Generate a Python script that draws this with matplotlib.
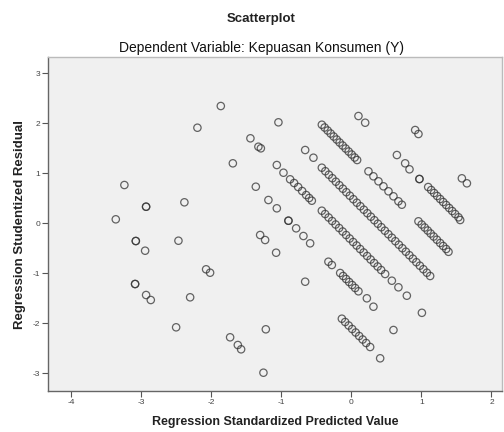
import matplotlib
matplotlib.use("Agg")
import matplotlib.pyplot as plt

plt.rcParams['font.family'] = ['Liberation Sans', 'DejaVu Sans']

title = "Scatterplot"
subtitle = "Dependent Variable: Kepuasan Konsumen (Y)"
xlabel = "Regression Standardized Predicted Value"
ylabel = "Regression Studentized Residual"
xticks = [-4, -3, -2, -1, 0, 1, 2]
yticks = [-3, -2, -1, 0, 1, 2, 3]

# Regression standardized predicted values (x) and studentized residuals (y)
pred = [
    # band 1
    0.910, 0.957, 1.577, 1.649,
    # band 2
    0.100, 0.196, 0.649, 0.767, 0.829, 0.971, 0.971,
    1.096, 1.139, 1.181, 1.224, 1.267, 1.310, 1.353, 1.396, 1.439, 1.481, 1.529, 1.553,
    # band 3
    -0.423, -0.383, -0.340, -0.297, -0.254, -0.211, -0.169, -0.126, -0.083, -0.040,
    0.003, 0.046, 0.081, 0.243, 0.314, 0.386, 0.457, 0.529, 0.600, 0.671, 0.720,
    0.957, 1.003, 1.046, 1.089, 1.131, 1.174, 1.220, 1.267, 1.310, 1.353, 1.386,
    # band 4
    -1.043, -0.661, -0.543,
    -0.423, -0.373, -0.323, -0.273, -0.223, -0.173, -0.123, -0.073, -0.023, 0.027,
    0.077, 0.127, 0.177, 0.227, 0.277, 0.327, 0.377, 0.427, 0.477, 0.527,
    0.577, 0.627, 0.677, 0.727, 0.777, 0.827, 0.877, 0.927, 0.977, 1.027, 1.077, 1.124,
    # band 5
    -1.866, -1.443, -1.329, -1.294, -1.066, -0.971, -0.876, -0.819, -0.761, -0.704,
    -0.647, -0.604, -0.566,
    -0.423, -0.376, -0.326, -0.276, -0.226, -0.176, -0.126, -0.076, -0.026, 0.024,
    0.074, 0.124, 0.174, 0.224, 0.274, 0.324, 0.374, 0.424, 0.481,
    0.577, 0.671, 0.791, 1.006,
    # band 6
    -2.200, -1.694, -1.366, -1.186, -1.066, -0.900, -0.900, -0.790, -0.686, -0.590,
    -0.329, -0.280, -0.161, -0.119, -0.076, -0.033, 0.010, 0.053, 0.100,
    0.220, 0.314, 0.600,
    # band 7
    -1.304, -1.233, -1.076, -0.661,
    -0.137, -0.090, -0.040, 0.010, 0.060, 0.110, 0.160, 0.210, 0.267, 0.410,
    # band 8
    -2.386,
    # band 9
    -3.243, -2.933, -2.933, -2.471, -2.076, -2.019, -1.223,
    # band 10
    -3.366, -3.080, -3.080, -2.947, -2.304, -1.733, -1.623, -1.576, -1.257,
    # band 11
    -3.090, -3.090, -2.933, -2.866, -2.504,
]

resid = [
    # band 1
    1.866, 1.786, 0.900, 0.800,
    # band 2
    2.146, 2.012, 1.366, 1.200, 1.080, 0.886, 0.886,
    0.726, 0.666, 0.606, 0.546, 0.486, 0.426, 0.366, 0.306, 0.246, 0.186, 0.120, 0.066,
    # band 3
    1.972, 1.916, 1.856, 1.796, 1.736, 1.676, 1.616, 1.556, 1.496, 1.436,
    1.376, 1.316, 1.266, 1.040, 0.940, 0.840, 0.740, 0.640, 0.540, 0.440, 0.372,
    0.040, -0.024, -0.084, -0.144, -0.204, -0.264, -0.328, -0.394, -0.454, -0.514, -0.570,
    # band 4
    2.020, 1.466, 1.312,
    1.112, 1.042, 0.972, 0.902, 0.832, 0.762, 0.692, 0.622, 0.552, 0.482,
    0.412, 0.342, 0.272, 0.202, 0.132, 0.062, -0.008, -0.078, -0.148, -0.218,
    -0.288, -0.358, -0.428, -0.498, -0.568, -0.638, -0.708, -0.778, -0.848, -0.918, -0.988, -1.054,
    # band 5
    2.346, 1.700, 1.532, 1.500, 1.166, 1.012, 0.880, 0.806, 0.726, 0.646,
    0.566, 0.506, 0.452,
    0.252, 0.186, 0.116, 0.046, -0.024, -0.094, -0.164, -0.234, -0.304, -0.374,
    -0.444, -0.514, -0.584, -0.654, -0.724, -0.794, -0.864, -0.934, -1.014,
    -1.148, -1.280, -1.448, -1.790,
    # band 6
    1.912, 1.200, 0.732, 0.466, 0.300, 0.052, 0.052, -0.100, -0.254, -0.400,
    -0.768, -0.834, -0.994, -1.054, -1.114, -1.174, -1.234, -1.294, -1.360,
    -1.500, -1.668, -2.134,
    # band 7
    -0.234, -0.334, -0.588, -1.168,
    -1.908, -1.974, -2.044, -2.114, -2.184, -2.254, -2.324, -2.394, -2.474, -2.700,
    # band 8
    0.420,
    # band 9
    0.766, 0.332, 0.332, -0.348, -0.920, -0.988, -2.120,
    # band 10
    0.080, -0.354, -0.354, -0.548, -1.480, -2.280, -2.434, -2.520, -2.988,
    # band 11
    -1.214, -1.214, -1.434, -1.534, -2.080,
]

fig = plt.figure(figsize=(5.04, 4.32), dpi=100)
fig.patch.set_facecolor('white')
ax = fig.add_axes([0.0958, 0.0949, 0.9002, 0.7731])
ax.set_facecolor('#f0f0f0')

ax.scatter(pred, resid, s=28, facecolors='none', edgecolors='#333333',
           linewidths=0.9, alpha=0.75, zorder=3)

ax.set_xlim(-4.33, 2.15)
ax.set_ylim(-3.354, 3.326)
ax.set_xticks(xticks)
ax.set_yticks(yticks)
ax.set_xticklabels([str(t) for t in xticks])
ax.set_yticklabels([str(t) for t in yticks])
ax.tick_params(axis='both', direction='out', length=4, width=0.8,
               colors='#555555', labelsize=6, labelcolor='#444444', pad=2)

for side in ['left', 'bottom']:
    ax.spines[side].set_color('#666666')
    ax.spines[side].set_linewidth(1.0)
for side in ['top', 'right']:
    ax.spines[side].set_color('#bbbbbb')
    ax.spines[side].set_linewidth(1.0)

fig.text(0.518, 0.956, title, ha='center', va='center', fontsize=9.5,
         fontweight='bold', color='#222222')
fig.text(0.518, 0.889, subtitle, ha='center', va='center', fontsize=10,
         color='#111111')
ax.set_xlabel(xlabel, fontsize=9, fontweight='bold', color='#222222', labelpad=7)
ax.set_ylabel(ylabel, fontsize=9.5, fontweight='bold', color='#222222', labelpad=5)

fig.savefig('out.png', dpi=100)
